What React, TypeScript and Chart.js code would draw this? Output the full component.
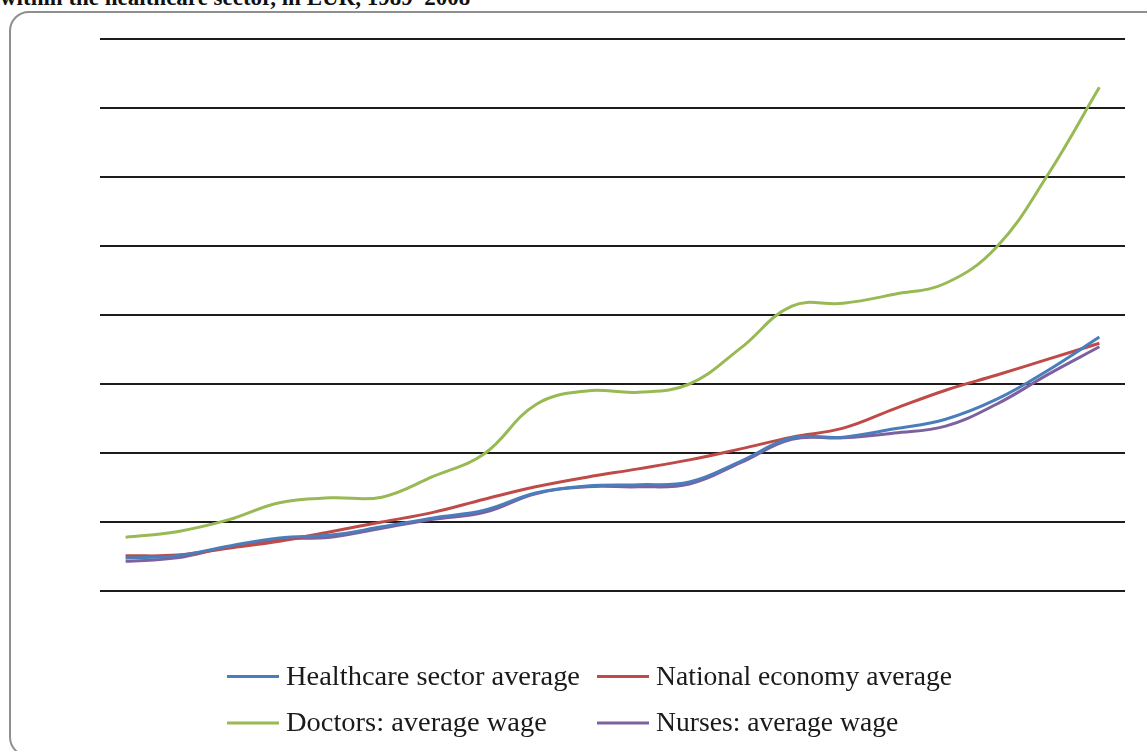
import React, { useEffect, useRef } from "react";
import { Chart, registerables } from "chart.js";

Chart.register(...registerables);

const years = [
  "1989", "1990", "1991", "1992", "1993", "1994", "1995", "1996", "1997", "1998",
  "1999", "2000", "2001", "2002", "2003", "2004", "2005", "2006", "2007", "2008",
];

// Values in EUR (gridlines every 200 EUR, axis labels hidden as in the reference)
const healthcareAvg = [96, 102, 130, 154, 162, 186, 212, 234, 284, 304, 308, 316, 376, 444, 446, 470, 498, 556, 640, 736];
const nationalAvg = [102, 104, 124, 144, 172, 200, 228, 266, 302, 330, 354, 380, 412, 446, 472, 528, 582, 626, 672, 718];
const doctorsAvg = [156, 172, 206, 256, 270, 272, 332, 398, 540, 580, 576, 600, 704, 826, 834, 860, 892, 998, 1208, 1460];
const nursesAvg = [86, 96, 128, 150, 156, 182, 208, 228, 282, 302, 302, 310, 372, 440, 444, 458, 478, 542, 628, 708];

const seriesLabels = [
  "Healthcare sector average",
  "National economy average",
  "Doctors: average wage",
  "Nurses: average wage",
];
const seriesColors = ["#4A7EBB", "#BE4B48", "#98B954", "#7D60A0"];

const titleText = "within the healthcare sector, in EUR, 1989–2008";

const legendPlugin = {
  id: "gridLegend",
  afterDraw(chart: any) {
    const ctx = chart.ctx;
    const ds = chart.data.datasets;
    const rows = [676.5, 723];
    const colLine = [227, 597];
    const lineLen = 52;
    const textGap = 7;
    ctx.save();
    ctx.font = "27px 'Liberation Serif', 'DejaVu Serif', serif";
    const ref = ctx.measureText(seriesLabels[0]).width;
    const sx = 294 / ref;
    ds.forEach((d: any, i: number) => {
      const r = Math.floor(i / 2);
      const c = i % 2;
      const y = rows[r];
      const x0 = colLine[c];
      ctx.strokeStyle = d.borderColor;
      ctx.lineWidth = 3;
      ctx.beginPath();
      ctx.moveTo(x0, y);
      ctx.lineTo(x0 + lineLen, y);
      ctx.stroke();
      ctx.save();
      ctx.translate(x0 + lineLen + textGap, y);
      ctx.scale(sx * (c === 1 ? 0.97 : 1), 1);
      ctx.fillStyle = "#1a1a1a";
      ctx.textBaseline = "middle";
      ctx.textAlign = "left";
      ctx.fillText(d.label, 0, 1);
      ctx.restore();
    });
    ctx.restore();
  },
};

export default function App() {
  const canvasRef = useRef<HTMLCanvasElement | null>(null);

  useEffect(() => {
    if (!canvasRef.current) return;
    const data = [healthcareAvg, nationalAvg, doctorsAvg, nursesAvg];
    const chart = new Chart(canvasRef.current, {
      type: "line",
      data: {
        labels: years,
        datasets: data.map((vals, i) => ({
          label: seriesLabels[i],
          data: vals,
          borderColor: seriesColors[i],
          backgroundColor: seriesColors[i],
          borderWidth: 3,
          pointRadius: 0,
          pointHoverRadius: 0,
          tension: 0.4,
          fill: false,
        })),
      },
      options: {
        responsive: false,
        animation: false,
        maintainAspectRatio: false,
        layout: { padding: { left: 100, right: 22, top: 39, bottom: 160 } },
        plugins: {
          legend: { display: false },
          tooltip: { enabled: false },
          title: { display: false },
        },
        scales: {
          x: {
            type: "category",
            display: false,
            offset: true,
          },
          y: {
            min: 0,
            max: 1600,
            ticks: { display: false, stepSize: 200 },
            border: { display: false },
            grid: { color: "#1c1c1c", lineWidth: 2, drawTicks: false, tickLength: 0 },
          },
        },
      },
      plugins: [legendPlugin],
    });
    return () => chart.destroy();
  }, []);

  return (
    <div
      style={{
        position: "fixed",
        left: 0,
        top: 0,
        width: 1147,
        height: 751,
        overflow: "hidden",
        background: "#ffffff",
      }}
    >
      <div
        style={{
          position: "absolute",
          left: 0,
          top: -14,
          fontFamily: "'Liberation Serif', serif",
          fontWeight: "bold",
          fontSize: 23,
          lineHeight: "23px",
          color: "#111",
          whiteSpace: "nowrap",
        }}
      >
        {titleText}
      </div>
      <div
        style={{
          position: "absolute",
          left: 9,
          top: 11,
          width: 1170,
          height: 746,
          border: "2px solid #8f8f8f",
          borderRadius: 20,
          boxSizing: "border-box",
        }}
      />
      <canvas
        ref={canvasRef}
        width={1147}
        height={751}
        style={{ position: "absolute", left: 0, top: 0, width: 1147, height: 751 }}
      />
    </div>
  );
}
